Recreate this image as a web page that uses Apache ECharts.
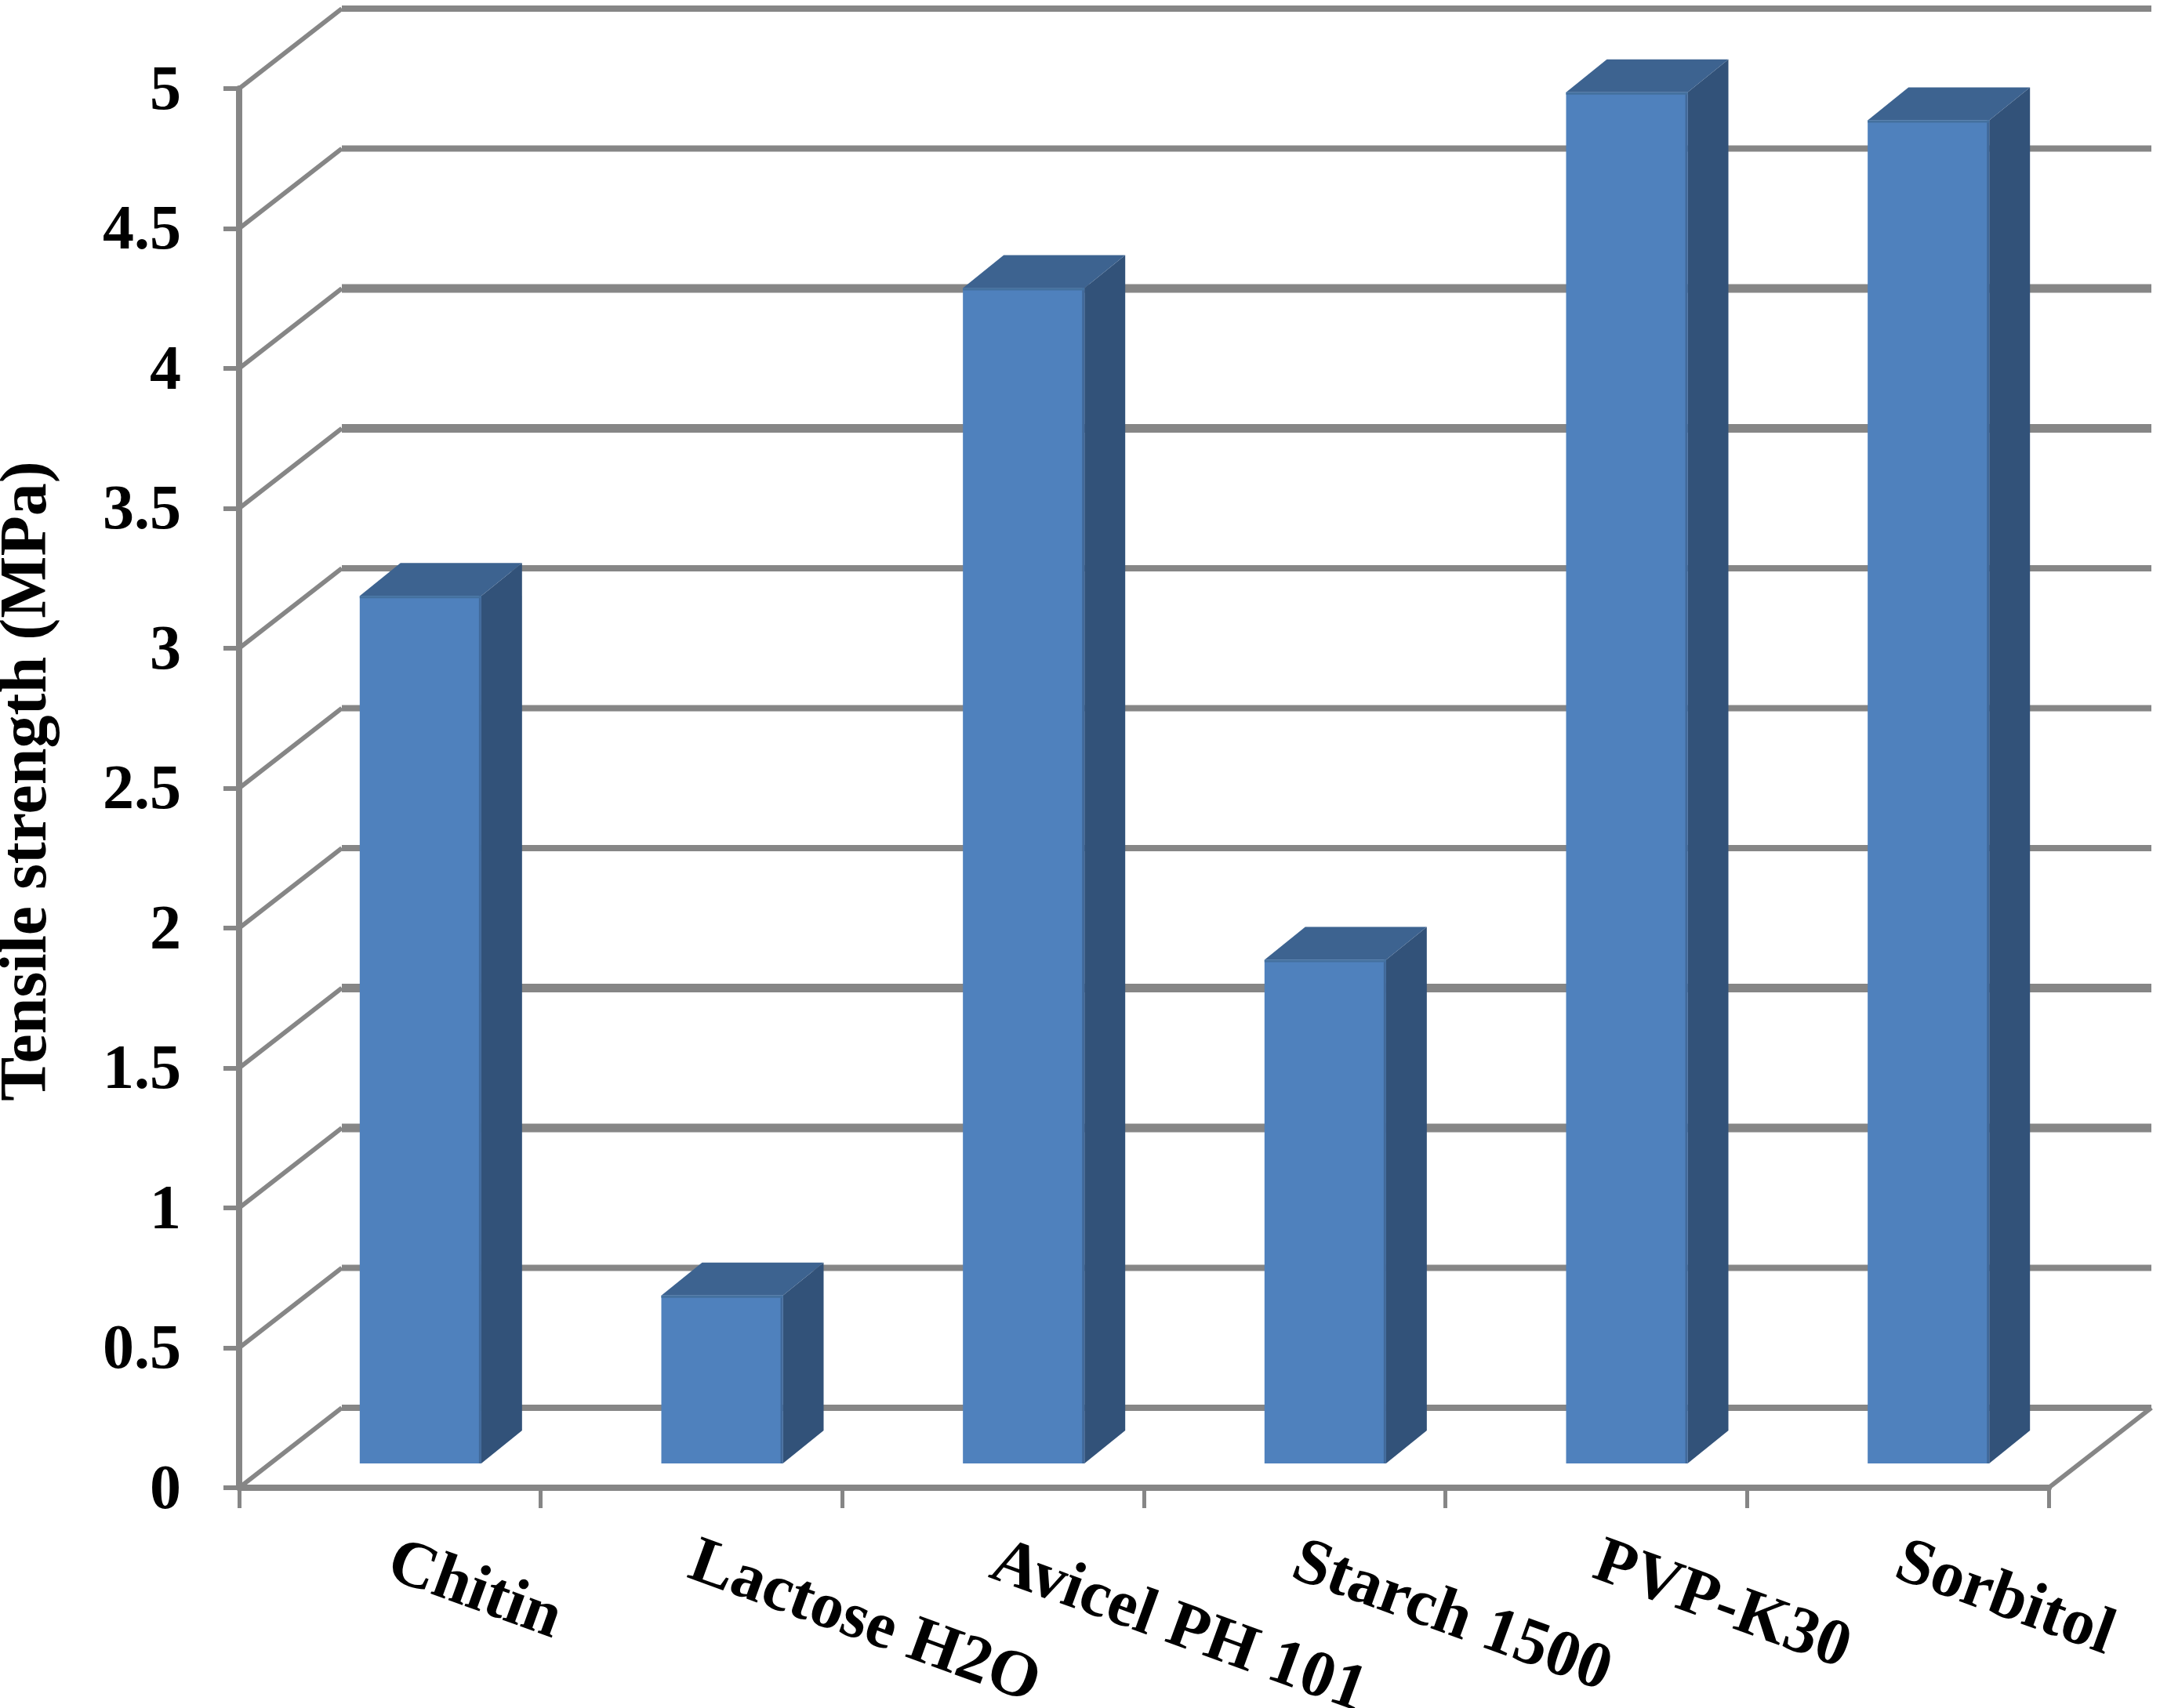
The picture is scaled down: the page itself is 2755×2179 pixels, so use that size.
<!DOCTYPE html>
<html lang="en">
<head>
  <meta charset="UTF-8">
  <title>Tensile strength</title>
  <style>
    html, body { margin: 0; padding: 0; background: #fff; }
  </style>
  <script src="https://cdn.jsdelivr.net/npm/echarts@6/dist/echarts.min.js"></script>
</head>
<body>
<div id="chart" style="width:2755px;height:2179px"></div>

<script>
  var categories = ['Chitin', 'Lactose H2O', 'Avicel PH 101', 'Starch 1500', 'PVP-K30', 'Sorbitol'];
  var tensile = [3.1, 0.6, 4.2, 1.8, 4.9, 4.8];
  var yTicks = [0, 0.5, 1, 1.5, 2, 2.5, 3, 3.5, 4, 4.5, 5];
  // these gridlines look heavier in the original
  var heavyTicks = [1, 1.5, 3.5, 4];

  var gray = '#868686';
  var wallDx = 131, wallDy = 102;   // back wall offset
  var barDx = 39, barDy = 31;       // bars stand a bit behind the front plane
  var sideDx = 52, sideDy = 42;     // bar depth
  var fontFamily = '"Liberation Serif", serif';

  var myChart = echarts.init(document.getElementById('chart'));

  function renderWall(params, api) {
    var cs = params.coordSys;
    var y = api.coord([0, api.value(1)])[1];
    var x0 = cs.x;
    var x1 = cs.x + wallDx;
    var x2 = cs.x + cs.width + wallDx;
    var children = [
      {
        type: 'line',
        shape: { x1: x0, y1: y, x2: x1, y2: y - wallDy },
        style: { stroke: gray, lineWidth: 6 }
      },
      {
        type: 'line',
        shape: { x1: x1, y1: y - wallDy, x2: x2, y2: y - wallDy },
        style: { stroke: gray, lineWidth: heavyTicks.indexOf(api.value(1)) >= 0 ? 11 : 8 }
      }
    ];
    // floor edge on the right
    if (api.value(1) === 0) {
      children.push({
        type: 'line',
        shape: { x1: cs.x + cs.width, y1: y, x2: x2, y2: y - wallDy },
        style: { stroke: gray, lineWidth: 6 }
      });
    }
    return { type: 'group', children: children };
  }

  function renderBar(params, api) {
    var idx = api.value(0);
    var top = api.coord([idx, api.value(1)]);
    var base = api.coord([idx, 0]);
    var w = api.size([1, 0])[0] * 0.403;
    var l = top[0] + barDx - w / 2;
    var r = l + w;
    var t = top[1] - barDy;
    var b = base[1] - barDy;
    return {
      type: 'group',
      children: [
        {
          type: 'polygon',
          shape: { points: [[r, t], [r + sideDx, t - sideDy], [r + sideDx, b - sideDy], [r, b]] },
          style: { fill: '#325279' }
        },
        {
          type: 'polygon',
          shape: { points: [[l, t], [l + sideDx, t - sideDy], [r + sideDx, t - sideDy], [r, t]] },
          style: { fill: '#3d6390' }
        },
        {
          type: 'rect',
          shape: { x: l, y: t, width: w, height: b - t },
          style: { fill: '#4f81bd' }
        },
        {
          type: 'rect',
          shape: { x: r - 3, y: t, width: 3, height: b - t },
          style: { fill: '#41699a' }
        },
        {
          type: 'rect',
          shape: { x: l, y: t, width: w, height: 3 },
          style: { fill: '#44719f' }
        }
      ]
    };
  }

  var option = {
    backgroundColor: '#fff',
    animation: false,
    grid: { left: 305, right: 142, top: 113, bottom: 281, outerBoundsMode: 'none' },
    xAxis: {
      type: 'category',
      data: categories,
      axisLine: { lineStyle: { color: gray, width: 8 } },
      axisTick: { show: true, alignWithLabel: false, length: 26, lineStyle: { color: gray, width: 5 } },
      axisLabel: {
        interval: 0,
        rotate: -20,
        margin: 93,
        color: '#000',
        fontFamily: fontFamily,
        fontWeight: 'bold',
        fontSize: 84
      }
    },
    yAxis: {
      type: 'value',
      min: 0,
      max: 5,
      interval: 0.5,
      name: 'Tensile strength (MPa)',
      nameLocation: 'middle',
      nameGap: 227,
      nameTextStyle: {
        color: '#000',
        fontFamily: fontFamily,
        fontWeight: 'bold',
        fontSize: 84,
        padding: [0, 0, 0, 18]
      },
      axisLine: { show: true, lineStyle: { color: gray, width: 8 } },
      axisTick: { show: true, length: 20, lineStyle: { color: gray, width: 6 } },
      splitLine: { show: false },
      axisLabel: {
        margin: 74,
        verticalAlign: 'top',
        padding: [-35, 0, 0, 0],
        color: '#000',
        fontFamily: fontFamily,
        fontWeight: 'bold',
        fontSize: 80
      }
    },
    series: [
      {
        type: 'custom',
        renderItem: renderWall,
        silent: true,
        data: yTicks.map(function (v) { return [0, v]; }),
        z: 1
      },
      {
        type: 'custom',
        renderItem: renderBar,
        data: tensile.map(function (v, i) { return [i, v]; }),
        z: 2
      }
    ]
  };

  myChart.setOption(option);
</script>
</body>
</html>
